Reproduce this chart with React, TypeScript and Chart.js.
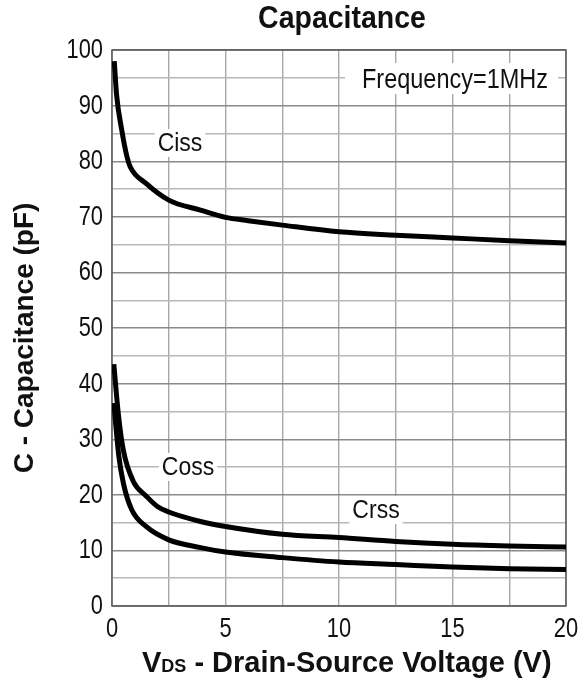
import React, { useEffect, useRef } from "react";
import { Chart, registerables } from "chart.js";

Chart.register(...registerables);

// ---- data ----
const cissV = [0.1, 0.2, 0.43, 0.66, 0.8, 1.5, 2.5, 3.9, 5, 6, 7.5, 10, 12.5, 15, 17.5, 20];
const cissC = [98, 92, 85.6, 80.8, 79, 76, 73, 71.2, 69.9, 69.3, 68.5, 67.3, 66.7, 66.2, 65.7, 65.3];

const cossV = [0.08, 0.28, 0.5, 0.94, 1.5, 2, 2.5, 3.9, 5, 7.5, 10, 12.5, 15, 17.5, 20];
const cossC = [43.5, 34.5, 28, 22.4, 19.8, 17.9, 16.9, 15.2, 14.3, 12.9, 12.3, 11.6, 11.1, 10.8, 10.6];

const crssV = [0.08, 0.3, 0.5, 0.87, 1.5, 2.5, 3.9, 5, 7.5, 10, 12.5, 15, 17.5, 20];
const crssC = [36.5, 27, 22.1, 17.3, 14.3, 11.9, 10.5, 9.7, 8.7, 7.9, 7.45, 7.0, 6.7, 6.55];

const xTickLabels = [0, 5, 10, 15, 20];
const yTickLabels = [0, 10, 20, 30, 40, 50, 60, 70, 80, 90, 100];

const seriesNames = ["Ciss", "Coss", "Crss"];
const chartTitle = "Capacitance";
const yTitle = "C - Capacitance (pF)";
const xTitleMain = "V";
const xTitleSub = "DS";
const xTitleRest = " - Drain-Source Voltage (V)";
const noteText = "Frequency=1MHz";

const SANS = '"Liberation Sans", Arial, sans-serif';

const toPts = (xs: number[], ys: number[]) => xs.map((x, i) => ({ x, y: ys[i] }));

function drawText(
  ctx: CanvasRenderingContext2D,
  text: string,
  x: number,
  y: number,
  font: string,
  sx: number,
  align: CanvasTextAlign
) {
  ctx.save();
  ctx.translate(x, y);
  ctx.scale(sx, 1);
  ctx.font = font;
  ctx.textAlign = align;
  ctx.textBaseline = "alphabetic";
  ctx.fillText(text, 0, 0);
  ctx.restore();
}

const textPlugin = {
  id: "textPlugin",
  beforeDatasetsDraw(chart: any) {
    const { ctx, chartArea: a } = chart;
    ctx.save();
    // frame
    ctx.strokeStyle = "#5a5a5a";
    ctx.lineWidth = 1.5;
    ctx.strokeRect(a.left, a.top, a.right - a.left, a.bottom - a.top);
    // note box
    ctx.fillStyle = "#ffffff";
    ctx.fillRect(345, 63, 213, 31);
    ctx.fillStyle = "#111";
    drawText(ctx, noteText, 455, 88, `27px ${SANS}`, 0.87, "center");
    // curve labels
    const labels: [string, number, number][] = [
      [seriesNames[0], 180, 151],
      [seriesNames[1], 188, 475],
      [seriesNames[2], 376, 518],
    ];
    const lf = `25px ${SANS}`;
    labels.forEach(([t, x, y]) => {
      ctx.font = lf;
      const w = ctx.measureText(t).width * 0.92;
      ctx.fillStyle = "#ffffff";
      ctx.fillRect(x - w / 2 - 3, y - 22, w + 6, 28);
      ctx.fillStyle = "#111";
      drawText(ctx, t, x, y, lf, 0.92, "center");
    });
    ctx.restore();
  },
  afterDraw(chart: any) {
    const { ctx, scales } = chart;
    ctx.save();
    ctx.fillStyle = "#111";
    // tick labels (positions from the chart's scales)
    const tf = `28px ${SANS}`;
    yTickLabels.forEach((v) => {
      const py = scales.y.getPixelForValue(v);
      drawText(ctx, String(v), 103, py + 8, tf, 0.78, "right");
    });
    xTickLabels.forEach((v) => {
      const px = scales.x.getPixelForValue(v);
      drawText(ctx, String(v), px, scales.x.top + 31, tf, 0.78, "center");
    });
    // title
    drawText(ctx, chartTitle, 342, 28, `bold 32px ${SANS}`, 0.89, "center");
    // y title
    ctx.save();
    ctx.translate(33, 338);
    ctx.rotate(-Math.PI / 2);
    ctx.font = `bold 28px ${SANS}`;
    ctx.textAlign = "center";
    ctx.textBaseline = "alphabetic";
    ctx.fillText(yTitle, 0, 0);
    ctx.restore();
    // x title with subscript
    ctx.textAlign = "left";
    ctx.textBaseline = "alphabetic";
    let x = 142;
    const base = 672;
    ctx.font = `bold 29px ${SANS}`;
    ctx.fillText(xTitleMain, x, base);
    x += ctx.measureText(xTitleMain).width;
    ctx.font = `bold 18px ${SANS}`;
    ctx.fillText(xTitleSub, x, base);
    x += ctx.measureText(xTitleSub).width;
    ctx.font = `bold 29px ${SANS}`;
    ctx.fillText(xTitleRest, x, base);
    ctx.restore();
  },
};

export default function App() {
  const ref = useRef<HTMLCanvasElement | null>(null);

  useEffect(() => {
    document.body.style.margin = "0";
    const canvas = ref.current;
    if (!canvas) return;
    const lineDs = (label: string, xs: number[], ys: number[]) => ({
      label,
      data: toPts(xs, ys),
      borderColor: "#000",
      backgroundColor: "#000",
      borderWidth: 5,
      pointRadius: 0,
      cubicInterpolationMode: "monotone" as const,
      fill: false,
    });
    const chart = new Chart(canvas, {
      type: "line",
      data: {
        datasets: [
          lineDs(seriesNames[0], cissV, cissC),
          lineDs(seriesNames[1], cossV, cossC),
          lineDs(seriesNames[2], crssV, crssC),
        ],
      },
      options: {
        responsive: false,
        animation: false,
        events: [],
        layout: { padding: { top: 50, right: 15, bottom: 0, left: 0 } },
        plugins: {
          legend: { display: false },
          title: { display: false },
          tooltip: { enabled: false },
        },
        scales: {
          x: {
            type: "linear",
            min: 0,
            max: 20,
            afterFit: (s: any) => {
              s.height = 72;
            },
            border: { display: false },
            grid: { color: "#a8a8a8", lineWidth: 1.4, drawTicks: false },
            ticks: { stepSize: 2.5, autoSkip: false, display: false },
          },
          y: {
            type: "linear",
            min: 0,
            max: 100,
            afterFit: (s: any) => {
              s.width = 112;
            },
            border: { display: false },
            grid: {
              color: (c: any) =>
                c.tick && c.tick.value % 10 === 0 ? "#8a8a8a" : "#b8b8b8",
              lineWidth: 1.4,
              drawTicks: false,
            },
            ticks: { stepSize: 5, autoSkip: false, display: false },
          },
        },
      },
      plugins: [textPlugin],
    });
    return () => chart.destroy();
  }, []);

  return <canvas ref={ref} width={581} height={678} style={{ display: "block" }} />;
}
